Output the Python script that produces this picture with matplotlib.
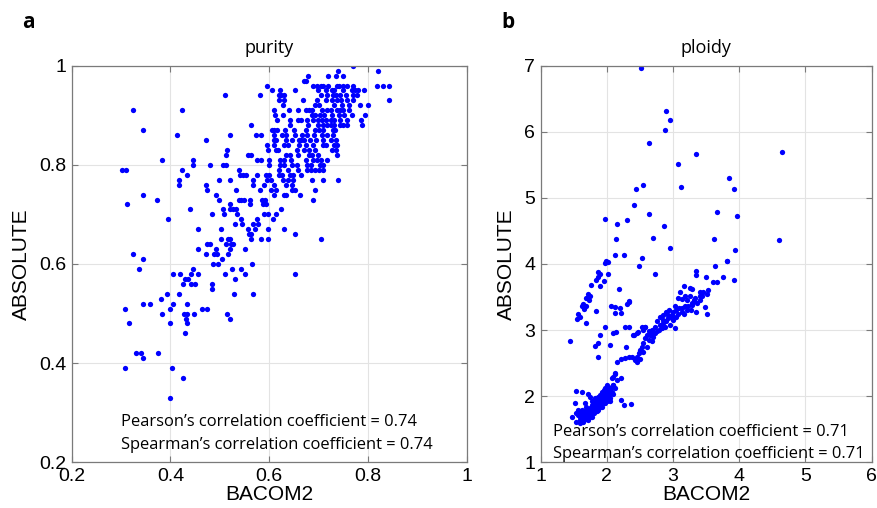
import matplotlib.pyplot as plt

# purity panel: (BACOM2, ABSOLUTE)
purity_pts = [
    (0.77, 1.00), (0.82, 0.99), (0.74, 0.99),
    (0.679, 0.98), (0.72, 0.98), (0.736, 0.98), (0.749, 0.98),
    (0.67, 0.97), (0.674, 0.97),
    (0.596, 0.96), (0.688, 0.96), (0.696, 0.96), (0.704, 0.96), (0.71, 0.96), (0.72, 0.96),
    (0.737, 0.96), (0.741, 0.96), (0.75, 0.96), (0.757, 0.96), (0.77, 0.96),
    (0.818, 0.96), (0.831, 0.96), (0.842, 0.96),
    (0.606, 0.95), (0.622, 0.95), (0.652, 0.95), (0.698, 0.95), (0.715, 0.95), (0.727, 0.95),
    (0.731, 0.95), (0.749, 0.95), (0.767, 0.95), (0.773, 0.95), (0.779, 0.95), (0.792, 0.95),
    (0.51, 0.94), (0.581, 0.94), (0.62, 0.94), (0.624, 0.94), (0.63, 0.94), (0.704, 0.94),
    (0.717, 0.94), (0.729, 0.94), (0.735, 0.94), (0.743, 0.94), (0.755, 0.94), (0.769, 0.94),
    (0.777, 0.94),
    (0.62, 0.93), (0.63, 0.93), (0.668, 0.93), (0.696, 0.93), (0.715, 0.93), (0.727, 0.93),
    (0.737, 0.93), (0.745, 0.93), (0.757, 0.93), (0.769, 0.93), (0.842, 0.93),
    (0.627, 0.92), (0.692, 0.92), (0.70, 0.92), (0.731, 0.92), (0.747, 0.92), (0.762, 0.92),
    (0.783, 0.92), (0.80, 0.92),
    (0.324, 0.91), (0.424, 0.91), (0.609, 0.91), (0.641, 0.91), (0.658, 0.91), (0.674, 0.91),
    (0.68, 0.91), (0.686, 0.91), (0.706, 0.91), (0.718, 0.91), (0.725, 0.91), (0.737, 0.91),
    (0.743, 0.91), (0.749, 0.91), (0.762, 0.91),
    (0.612, 0.90), (0.627, 0.90), (0.686, 0.90), (0.692, 0.90), (0.702, 0.90), (0.712, 0.90),
    (0.727, 0.90), (0.741, 0.90), (0.751, 0.90), (0.767, 0.90), (0.794, 0.90),
    (0.616, 0.89), (0.642, 0.89), (0.658, 0.89), (0.665, 0.89), (0.676, 0.89), (0.688, 0.89),
    (0.698, 0.89), (0.706, 0.89), (0.715, 0.89), (0.725, 0.89), (0.731, 0.89), (0.743, 0.89),
    (0.757, 0.89), (0.785, 0.89),
    (0.564, 0.88), (0.642, 0.88), (0.678, 0.88), (0.698, 0.88), (0.71, 0.88), (0.718, 0.88),
    (0.725, 0.88), (0.731, 0.88), (0.743, 0.88), (0.749, 0.88), (0.757, 0.88), (0.787, 0.88),
    (0.345, 0.87), (0.605, 0.87), (0.61, 0.87), (0.616, 0.87), (0.632, 0.87), (0.651, 0.87),
    (0.674, 0.87), (0.692, 0.87), (0.70, 0.87), (0.708, 0.87), (0.729, 0.87), (0.733, 0.87),
    (0.413, 0.86), (0.52, 0.86), (0.574, 0.86), (0.584, 0.86), (0.61, 0.86), (0.626, 0.86),
    (0.635, 0.86), (0.652, 0.86), (0.666, 0.86), (0.676, 0.86), (0.69, 0.86), (0.706, 0.86),
    (0.717, 0.86), (0.729, 0.86),
    (0.472, 0.85), (0.609, 0.85), (0.614, 0.85), (0.634, 0.85), (0.646, 0.85), (0.66, 0.85),
    (0.664, 0.85), (0.67, 0.85), (0.682, 0.85), (0.694, 0.85), (0.71, 0.85), (0.725, 0.85),
    (0.735, 0.85),
    (0.596, 0.84), (0.61, 0.84), (0.63, 0.84), (0.639, 0.84), (0.66, 0.84), (0.674, 0.84),
    (0.688, 0.84), (0.708, 0.84), (0.715, 0.84), (0.731, 0.84), (0.737, 0.84),
    (0.515, 0.83), (0.598, 0.83), (0.614, 0.83), (0.618, 0.83), (0.656, 0.83), (0.67, 0.83),
    (0.68, 0.83), (0.692, 0.83), (0.727, 0.83), (0.735, 0.83),
    (0.512, 0.82), (0.558, 0.82), (0.564, 0.82), (0.634, 0.82), (0.642, 0.82), (0.658, 0.82),
    (0.68, 0.82), (0.686, 0.82), (0.698, 0.82), (0.737, 0.82),
    (0.382, 0.81), (0.446, 0.81), (0.575, 0.81), (0.584, 0.81), (0.60, 0.81), (0.622, 0.81),
    (0.63, 0.81), (0.644, 0.81), (0.674, 0.81), (0.688, 0.81), (0.696, 0.81), (0.704, 0.81),
    (0.718, 0.81),
    (0.446, 0.80), (0.481, 0.80), (0.506, 0.80), (0.512, 0.80), (0.60, 0.80), (0.622, 0.80),
    (0.63, 0.80), (0.646, 0.80), (0.656, 0.80), (0.676, 0.80), (0.684, 0.80), (0.702, 0.80),
    (0.708, 0.80),
    (0.302, 0.79), (0.31, 0.79), (0.424, 0.79), (0.539, 0.79), (0.62, 0.79), (0.639, 0.79),
    (0.658, 0.79), (0.676, 0.79), (0.684, 0.79), (0.692, 0.79), (0.70, 0.79), (0.71, 0.79),
    (0.434, 0.78), (0.541, 0.78), (0.547, 0.78), (0.553, 0.78), (0.575, 0.78), (0.594, 0.78),
    (0.60, 0.78), (0.62, 0.78), (0.626, 0.78), (0.642, 0.78), (0.649, 0.78), (0.664, 0.78),
    (0.417, 0.77), (0.498, 0.77), (0.521, 0.77), (0.568, 0.77), (0.596, 0.77), (0.604, 0.77),
    (0.628, 0.77), (0.638, 0.77), (0.649, 0.77), (0.686, 0.77), (0.71, 0.77), (0.739, 0.77),
    (0.417, 0.76), (0.472, 0.76), (0.568, 0.76), (0.59, 0.76), (0.61, 0.76), (0.634, 0.76),
    (0.646, 0.76),
    (0.473, 0.75), (0.532, 0.75), (0.581, 0.75), (0.604, 0.75), (0.614, 0.75), (0.647, 0.75),
    (0.652, 0.75), (0.692, 0.75),
    (0.345, 0.74), (0.493, 0.74), (0.61, 0.74), (0.63, 0.74), (0.634, 0.74), (0.662, 0.74),
    (0.372, 0.73), (0.498, 0.73), (0.539, 0.73), (0.543, 0.73), (0.549, 0.73), (0.561, 0.73),
    (0.586, 0.73), (0.592, 0.73), (0.688, 0.73),
    (0.311, 0.72), (0.521, 0.72), (0.561, 0.72), (0.588, 0.72), (0.594, 0.72),
    (0.439, 0.71), (0.506, 0.71), (0.52, 0.71), (0.526, 0.71), (0.532, 0.71), (0.624, 0.71),
    (0.484, 0.70), (0.508, 0.70), (0.535, 0.70), (0.59, 0.70), (0.598, 0.70), (0.614, 0.70),
    (0.394, 0.69), (0.543, 0.69), (0.575, 0.69), (0.608, 0.69),
    (0.53, 0.68), (0.545, 0.68), (0.568, 0.68), (0.577, 0.68),
    (0.455, 0.67), (0.502, 0.67), (0.557, 0.67), (0.571, 0.67), (0.598, 0.67), (0.63, 0.67),
    (0.559, 0.66), (0.563, 0.66), (0.652, 0.66),
    (0.502, 0.65), (0.517, 0.65), (0.521, 0.65), (0.563, 0.65), (0.584, 0.65), (0.598, 0.65),
    (0.704, 0.65),
    (0.473, 0.64), (0.48, 0.64), (0.513, 0.64), (0.522, 0.64), (0.527, 0.64),
    (0.455, 0.63), (0.493, 0.63), (0.521, 0.63), (0.551, 0.63),
    (0.324, 0.62), (0.472, 0.62), (0.488, 0.62), (0.494, 0.62), (0.517, 0.62),
    (0.344, 0.61), (0.505, 0.61),
    (0.486, 0.60), (0.496, 0.60), (0.565, 0.60),
    (0.337, 0.59), (0.446, 0.59), (0.524, 0.59), (0.543, 0.59),
    (0.406, 0.58), (0.419, 0.58), (0.442, 0.58), (0.455, 0.58), (0.511, 0.58), (0.552, 0.58),
    (0.653, 0.58),
    (0.43, 0.57), (0.436, 0.57), (0.53, 0.57),
    (0.425, 0.56), (0.442, 0.56), (0.449, 0.56), (0.485, 0.56),
    (0.485, 0.55),
    (0.392, 0.54), (0.417, 0.54), (0.529, 0.54), (0.568, 0.54),
    (0.38, 0.53),
    (0.344, 0.52), (0.359, 0.52), (0.405, 0.52), (0.434, 0.52),
    (0.308, 0.51), (0.399, 0.51), (0.463, 0.51), (0.473, 0.51),
    (0.383, 0.50), (0.428, 0.50), (0.434, 0.50), (0.448, 0.50), (0.515, 0.50),
    (0.432, 0.49), (0.521, 0.49),
    (0.317, 0.48), (0.399, 0.48), (0.434, 0.48),
    (0.43, 0.46),
    (0.33, 0.42), (0.34, 0.42), (0.374, 0.42),
    (0.345, 0.41),
    (0.308, 0.39), (0.403, 0.39),
    (0.426, 0.37),
    (0.399, 0.33),
]

# ploidy panel: (BACOM2, ABSOLUTE)
ploidy_pts = [
    # sparse high values
    (2.51, 6.96), (2.89, 6.32), (2.95, 6.18), (2.88, 6.02), (2.64, 5.83), (3.34, 5.66),
    (4.65, 5.70), (3.07, 5.52), (3.12, 5.16), (2.55, 5.19), (2.44, 5.14), (3.85, 5.30),
    (3.92, 5.14), (2.41, 4.89), (3.67, 4.79), (3.97, 4.72), (2.63, 4.75), (1.97, 4.68),
    (2.30, 4.67), (2.16, 4.61), (2.87, 4.57), (2.69, 4.40), (2.14, 4.38), (3.62, 4.38),
    (4.60, 4.37), (2.95, 4.24), (3.93, 4.21), (2.13, 4.14), (2.26, 4.13), (2.53, 4.09),
    (1.99, 4.05), (2.01, 4.03), (1.97, 4.01), (2.48, 3.97), (3.63, 3.97), (3.82, 4.04),
    (2.01, 3.85), (2.73, 3.85), (3.35, 3.90), (3.35, 3.83), (3.49, 3.81), (3.75, 3.80),
    (3.92, 3.76), (3.61, 3.72), (3.66, 3.72),
    # upper arm
    (1.87, 3.88), (1.90, 3.85), (1.86, 3.81), (1.84, 3.76), (1.95, 3.75), (1.89, 3.67),
    (1.76, 3.68), (2.18, 3.62), (1.71, 3.55), (1.75, 3.52), (1.68, 3.48), (1.73, 3.45),
    (1.64, 3.39), (1.69, 3.36), (1.62, 3.36), (1.66, 3.32), (1.56, 3.24), (1.59, 3.20),
    (1.55, 3.17), (1.68, 3.11), (1.84, 3.29),
    (2.06, 3.37), (2.12, 3.35), (2.20, 3.34), (2.22, 3.26), (2.30, 3.39), (2.33, 3.42),
    (2.13, 3.26), (2.34, 3.44),
    (1.97, 3.05), (2.10, 2.96), (2.14, 2.97), (2.27, 3.04), (2.33, 3.05), (1.89, 2.92),
    (1.82, 2.76), (2.04, 2.78), (1.87, 2.60), (1.44, 2.84), (2.29, 2.75), (1.87, 2.81),
    (2.41, 2.92), (2.47, 2.97), (2.53, 3.05), (2.58, 3.05), (2.40, 2.93), (2.45, 2.96),
    (2.16, 2.52), (2.22, 2.56), (2.28, 2.58), (2.34, 2.59), (2.38, 2.60),
    (2.13, 2.35), (2.08, 2.27), (2.22, 2.28), (2.15, 2.24), (2.10, 2.17),
    (2.21, 1.94), (2.26, 1.87), (2.37, 1.88),
    # main band
    (3.82, 4.05), (3.17, 3.66), (3.26, 3.63), (3.29, 3.62), (3.10, 3.57), (3.41, 3.58),
    (3.45, 3.57), (3.53, 3.61), (3.52, 3.54), (3.42, 3.54), (3.08, 3.48), (3.13, 3.47),
    (3.21, 3.46), (3.31, 3.46), (3.33, 3.48), (3.41, 3.51), (3.28, 3.41), (3.48, 3.35),
    (3.27, 3.30), (3.35, 3.28), (3.51, 3.24),
    (3.03, 3.36), (3.09, 3.33), (3.13, 3.34), (3.18, 3.36), (3.21, 3.30), (3.17, 3.25),
    (3.05, 3.30), (3.00, 3.28), (2.94, 3.30), (2.89, 3.28), (2.93, 3.23), (2.98, 3.23),
    (3.05, 3.20), (2.85, 3.23), (2.80, 3.20), (2.85, 3.15), (2.75, 3.13), (2.80, 3.08),
    (2.88, 3.05), (2.95, 3.08), (3.03, 3.03), (2.73, 3.05), (2.68, 3.00), (2.75, 2.98),
    (2.65, 2.93), (2.70, 2.90), (2.60, 2.93), (2.58, 2.88), (2.63, 2.85), (2.68, 2.83),
    (2.55, 2.80), (2.60, 2.75), (2.53, 2.75), (2.50, 2.70), (2.55, 2.67), (2.48, 2.65),
    (2.45, 2.60), (2.50, 2.57), (2.42, 2.55), (2.45, 2.52),
    (2.55, 3.00), (2.58, 3.05),
    (2.63, 2.98), (2.68, 2.95), (2.73, 2.95), (2.78, 3.00), (2.83, 3.03), (2.85, 3.10),
    (2.90, 3.13), (2.93, 3.18), (2.98, 3.18), (3.00, 3.15), (3.08, 3.25), (3.13, 3.28),
    (3.23, 3.37), (3.28, 3.38), (3.36, 3.41), (3.41, 3.46), (3.43, 3.51), (3.26, 3.51),
    (3.18, 3.51),
    # low cluster
    (2.12, 2.34), (2.10, 2.29), (1.54, 2.08), (1.62, 2.07), (1.52, 1.89), (1.72, 2.04),
    (1.74, 1.99), (1.47, 1.69), (1.54, 1.61), (1.59, 1.59),
    (1.57, 1.72), (1.62, 1.69), (1.64, 1.74), (1.67, 1.77), (1.69, 1.72), (1.72, 1.79),
    (1.74, 1.82), (1.77, 1.77), (1.77, 1.87), (1.80, 1.84), (1.82, 1.89), (1.85, 1.92),
    (1.87, 1.94), (1.87, 1.87), (1.90, 1.97), (1.92, 1.99), (1.95, 2.02), (1.97, 2.04),
    (2.00, 2.07), (2.02, 2.09), (2.05, 2.12), (2.07, 2.14), (2.00, 2.17), (2.02, 2.02),
    (1.92, 1.92), (1.82, 1.79), (1.72, 1.69), (1.67, 1.66), (1.59, 1.64), (1.64, 1.61),
    (1.74, 1.74), (1.80, 1.79), (1.85, 1.84), (1.90, 1.89), (1.95, 1.94), (2.00, 1.97),
    (2.05, 2.04), (2.07, 2.07), (2.10, 2.17), (1.95, 2.09), (1.90, 2.02), (1.82, 1.97),
    (1.77, 1.92), (1.69, 1.84), (1.67, 1.89), (1.62, 1.79), (1.57, 1.79), (1.54, 1.74),
    (2.12, 2.12), (1.59, 1.69), (1.69, 1.66), (1.80, 1.74), (1.87, 1.79), (1.92, 1.84),
    (1.97, 1.89), (2.02, 1.94), (2.05, 1.97), (1.85, 1.77), (1.74, 1.69), (1.82, 1.84),
    (1.87, 1.99), (1.92, 2.07), (1.97, 2.12), (2.02, 2.14), (1.64, 1.66), (1.72, 1.64),
    (1.77, 1.69), (1.90, 1.84), (1.95, 1.89), (2.00, 1.92), (2.05, 1.92), (2.10, 2.04),
    (1.60, 1.75), (1.66, 1.71), (1.70, 1.76), (1.76, 1.80), (1.79, 1.86), (1.84, 1.88),
    (1.89, 1.92), (1.94, 1.97), (1.99, 2.01), (2.04, 2.07), (1.63, 1.64), (1.68, 1.70),
]

purity_x = [p[0] for p in purity_pts]
purity_y = [p[1] for p in purity_pts]
ploidy_x = [p[0] for p in ploidy_pts]
ploidy_y = [p[1] for p in ploidy_pts]

purity_stats = ["Pearson\u2019s correlation coefficient = 0.74",
                "Spearman\u2019s correlation coefficient = 0.74"]
ploidy_stats = ["Pearson\u2019s correlation coefficient = 0.71",
                "Spearman\u2019s correlation coefficient = 0.71"]

plt.rcParams['font.family'] = ['Liberation Sans', 'DejaVu Sans']

fig = plt.figure(figsize=(8.78, 5.08), dpi=100)
ax1 = fig.add_axes([0.0817, 0.09, 0.4498, 0.7807])
ax2 = fig.add_axes([0.6158, 0.09, 0.377, 0.7807])


def style(ax):
    ax.grid(True, color='#e3e3e3', linewidth=0.8)
    ax.set_axisbelow(True)
    for s in ax.spines.values():
        s.set_color('#7a7a7a')
        s.set_linewidth(0.9)
    ax.tick_params(direction='in', top=True, right=True, length=4,
                   color='#7a7a7a', labelsize=14, pad=4)


# purity
ax1.plot(purity_x, purity_y, 'o', color='#0000ff', markersize=3.8, markeredgewidth=0)
ax1.set_xlim(0.2, 1)
ax1.set_ylim(0.2, 1)
ax1.set_xticks([0.2, 0.4, 0.6, 0.8, 1])
ax1.set_xticklabels(['0.2', '0.4', '0.6', '0.8', '1'])
ax1.set_yticks([0.2, 0.4, 0.6, 0.8, 1])
ax1.set_yticklabels(['0.2', '0.4', '0.6', '0.8', '1'])
style(ax1)
ax1.set_xlabel('BACOM2', fontsize=15, labelpad=0)
ax1.set_ylabel('ABSOLUTE', fontsize=15, labelpad=6)
ax1.set_title('purity', fontsize=13, pad=9, family='Open Sans')
ax1.text(0.30, 0.282, purity_stats[0], fontsize=11.9, family='Open Sans', va='center')
ax1.text(0.30, 0.234, purity_stats[1], fontsize=11.9, family='Open Sans', va='center')

# ploidy
ax2.plot(ploidy_x, ploidy_y, 'o', color='#0000ff', markersize=3.8, markeredgewidth=0)
ax2.set_xlim(1, 6)
ax2.set_ylim(1, 7)
ax2.set_xticks([1, 2, 3, 4, 5, 6])
ax2.set_yticks([1, 2, 3, 4, 5, 6, 7])
style(ax2)
ax2.set_xlabel('BACOM2', fontsize=15, labelpad=0)
ax2.set_ylabel('ABSOLUTE', fontsize=15, labelpad=6)
ax2.set_title('ploidy', fontsize=13, pad=9, family='Open Sans')
ax2.text(1.19, 1.46, ploidy_stats[0], fontsize=11.9, family='Open Sans', va='center')
ax2.text(1.19, 1.12, ploidy_stats[1], fontsize=11.9, family='Open Sans', va='center')

fig.text(28 / 878, 1 - 22 / 508, 'a', fontsize=15, fontweight='bold', family='Open Sans',
         ha='center', va='center')
fig.text(508 / 878, 1 - 22 / 508, 'b', fontsize=15, fontweight='bold', family='Open Sans',
         ha='center', va='center')

plt.savefig('out.png', dpi=100)
